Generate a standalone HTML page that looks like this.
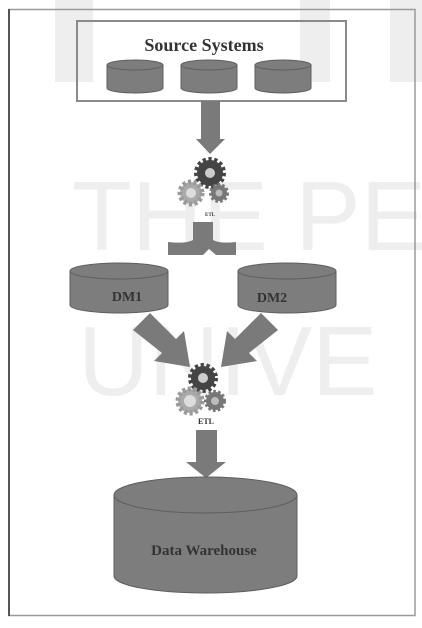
<!DOCTYPE html>
<html><head><style>
html,body{margin:0;padding:0;background:#fff;width:422px;height:628px;overflow:hidden}
svg{display:block}
text{font-family:"Liberation Serif",serif;font-weight:bold}
</style></head><body>
<svg width="422" height="628" viewBox="0 0 422 628" xmlns="http://www.w3.org/2000/svg">
<!-- watermark -->
<g fill="#eeeeee">
<rect x="55" y="0" width="38" height="82"/>
<rect x="300" y="0" width="30" height="82"/>
<rect x="390" y="0" width="32" height="82"/>
<text x="72" y="250" font-size="98" style="font-family:'Liberation Sans',sans-serif;font-weight:normal" fill="#eeeeee">THE PEO</text>
<text x="78" y="395" font-size="98" style="font-family:'Liberation Sans',sans-serif;font-weight:normal" fill="#eeeeee">UNIVE</text>
</g>
<!-- outer frame -->
<rect x="9" y="9.5" width="406" height="606" fill="none" stroke="#9a9a9a" stroke-width="1.5"/>
<line x1="9" y1="9" x2="9" y2="616" stroke="#555" stroke-width="2"/>
<!-- source box -->
<rect x="77" y="21" width="269" height="80" fill="none" stroke="#8a8a8a" stroke-width="2"/>
<text x="204" y="51" font-size="18" text-anchor="middle" fill="#333">Source Systems</text>
<g fill="#7d7d7d" stroke="#5e5e5e" stroke-width="1">
<path d="M107 65 V88 A28 5 0 0 0 163 88 V65 Z"/><ellipse cx="135" cy="65" rx="28" ry="5"/>
<path d="M181 65 V88 A28 5 0 0 0 237 88 V65 Z"/><ellipse cx="209" cy="65" rx="28" ry="5"/>
<path d="M255 65 V88 A28 5 0 0 0 311 88 V65 Z"/><ellipse cx="283" cy="65" rx="28" ry="5"/>
</g>
<!-- arrow 1 -->
<path d="M201 101 H220 V139 H225 L210 154 L196 139 H201 Z" fill="#7a7a7a"/>
<!-- gears 1 -->
<g>
<circle cx="210" cy="173" r="13" fill="#444" stroke="#444" stroke-width="6" stroke-dasharray="3 2.4"/>
<circle cx="210" cy="173" r="5" fill="#ccc"/>
<circle cx="191" cy="193" r="11" fill="#aaa" stroke="#999" stroke-width="5" stroke-dasharray="3 2.4"/>
<circle cx="191" cy="193" r="5" fill="#ddd"/>
<circle cx="219" cy="193" r="8" fill="#777" stroke="#777" stroke-width="4" stroke-dasharray="2.5 2"/>
<circle cx="219" cy="193" r="3.5" fill="#bbb"/>
</g>
<text x="210" y="216" font-size="5" text-anchor="middle" fill="#333">ETL</text>
<!-- split arrow -->
<path d="M193 222 H213 V240 Q220 244 236 242 V255 H216 L209 249 L203 255 H168 V242 Q186 244 193 240 Z" fill="#7a7a7a"/>
<!-- DM cylinders -->
<g fill="#7d7d7d" stroke="#5e5e5e" stroke-width="1">
<path d="M70 271 V305 A49 8 0 0 0 168 305 V271 Z"/><ellipse cx="119" cy="271" rx="49" ry="8"/>
<path d="M238 271 V305 A49 8 0 0 0 336 305 V271 Z"/><ellipse cx="287" cy="271" rx="49" ry="8"/>
</g>
<text x="127" y="301" font-size="14" text-anchor="middle" fill="#333">DM1</text>
<text x="272" y="302" font-size="14" text-anchor="middle" fill="#333">DM2</text>
<!-- diagonal arrows -->
<path d="M133 330 L150 313 L176 339 L184 331 L190 367 L154 361 L162 353 Z" fill="#7a7a7a"/>
<path d="M278 330 L261 313 L235 339 L227 331 L221 367 L257 361 L249 353 Z" fill="#7a7a7a"/>
<!-- gears 2 -->
<g>
<circle cx="203" cy="378" r="12" fill="#444" stroke="#444" stroke-width="6" stroke-dasharray="3 2.4"/>
<circle cx="203" cy="378" r="5" fill="#ccc"/>
<circle cx="190" cy="401" r="12" fill="#aaa" stroke="#999" stroke-width="5" stroke-dasharray="3 2.4"/>
<circle cx="190" cy="401" r="6" fill="#ddd"/>
<circle cx="215" cy="401" r="9" fill="#777" stroke="#777" stroke-width="4" stroke-dasharray="2.5 2"/>
<circle cx="215" cy="401" r="4" fill="#bbb"/>
</g>
<text x="206" y="424" font-size="8" text-anchor="middle" fill="#333">ETL</text>
<!-- arrow down -->
<path d="M196 430 H217 V462 H226 L206 478 L186 462 H196 Z" fill="#7a7a7a"/>
<!-- Data warehouse -->
<g fill="#7d7d7d" stroke="#5e5e5e" stroke-width="1">
<path d="M114 495 V576 A91.5 17 0 0 0 297 576 V495 Z"/><ellipse cx="205.5" cy="495" rx="91.5" ry="18"/>
</g>
<text x="204" y="555" font-size="15" text-anchor="middle" fill="#333">Data Warehouse</text>
</svg>
</body></html>
